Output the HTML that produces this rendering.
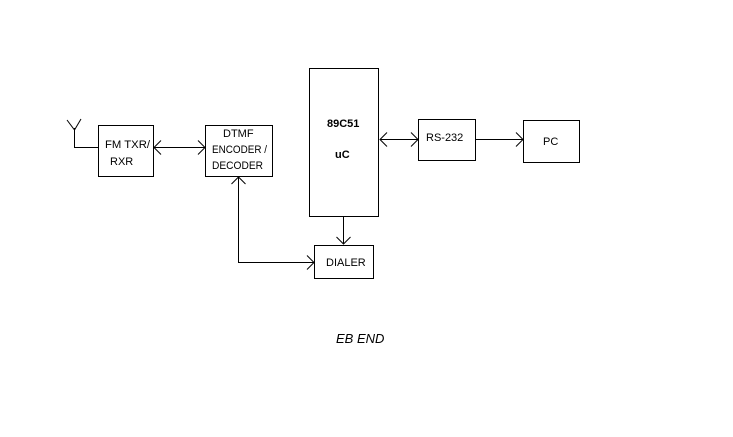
<!DOCTYPE html>
<html><head><style>
body{margin:0;background:#fff}
svg text{font-family:"Liberation Sans",sans-serif;font-size:11px;fill:#000}
</style></head><body>
<svg width="733" height="432" viewBox="0 0 733 432" xmlns="http://www.w3.org/2000/svg">
<g fill="none" stroke="#000" stroke-width="1" shape-rendering="crispEdges">
<rect x="98.5" y="125.5" width="55" height="51"/>
<rect x="205.5" y="125.5" width="67" height="51"/>
<rect x="309.5" y="68.5" width="69" height="148"/>
<rect x="314.5" y="245.5" width="59" height="33"/>
<rect x="418.5" y="119.5" width="57" height="41"/>
<rect x="523.5" y="120.5" width="56" height="42"/>
<path d="M74.5 128V147.5H98M154 147.5H205M238.5 177V262.5H314M343.5 217V244M380 139.5H418M476 139.5H523"/>
</g>
<g fill="none" stroke="#000" stroke-width="1">
<path d="M74.5 130L67 120M74.5 130L81 119"/>
<path d="M161 140.5L154 147.5L161 154.5M198 140.5L205 147.5L198 154.5"/>
<path d="M231.5 184L238.5 177L245.5 184M307 255.5L314 262.5L307 269.5"/>
<path d="M336.5 237L343.5 244L350.5 237"/>
<path d="M387 132.5L380 139.5L387 146.5M411 132.5L418 139.5L411 146.5"/>
<path d="M516 132.5L523 139.5L516 146.5"/>
</g>
<text x="105" y="148" textLength="45" lengthAdjust="spacingAndGlyphs">FM TXR/</text>
<text x="110" y="165">RXR</text>
<text x="223" y="137">DTMF</text>
<text x="212" y="153" textLength="55" lengthAdjust="spacingAndGlyphs">ENCODER /</text>
<text x="212" y="169" textLength="51" lengthAdjust="spacingAndGlyphs">DECODER</text>
<text x="327" y="127" font-weight="bold">89C51</text>
<text x="335" y="158" font-weight="bold">uC</text>
<text x="326" y="266">DIALER</text>
<text x="426" y="141">RS-232</text>
<text x="543" y="145">PC</text>
<text x="336" y="343" font-style="italic" style="font-size:13px">EB END</text>
</svg>
</body></html>
